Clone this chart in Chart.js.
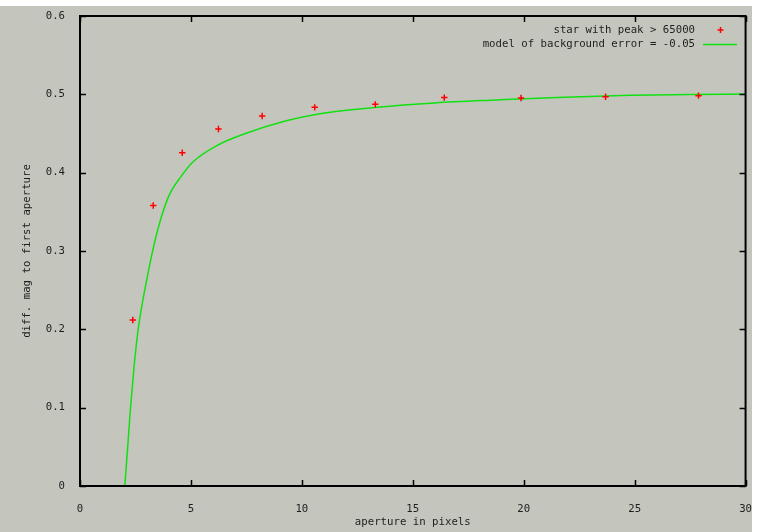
<!DOCTYPE html>
<html>
<head>
<meta charset="utf-8">
<script src="https://cdn.jsdelivr.net/npm/chart.js@4/dist/chart.umd.min.js"></script>
<style>
  body { margin: 0; background: #ffffff; }
  #wrap { width: 761px; height: 532px; }
</style>
</head>
<body>
<div id="wrap"><canvas id="grafico" width="761" height="532"></canvas></div>
<script>
// dados
const aberturaEstrela = [0, 2.38, 3.3, 4.61, 6.24, 8.21, 10.58, 13.31, 16.42, 19.88, 23.69, 27.88];
const difEstrela = [0, 0.212, 0.358, 0.4255, 0.4558, 0.4724, 0.4834, 0.4872, 0.4958, 0.4953, 0.497, 0.4983];

const aberturaModelo = [2.02, 2.15, 2.27, 2.43, 2.6, 2.8, 3.0, 3.25, 3.55, 4.0, 4.55, 5.1, 6.2, 7.46, 9.25, 10.75, 13.4, 16, 18.8, 21.5, 24.8, 27.5, 30];
const difModelo = [0, 0.05, 0.097, 0.15, 0.195, 0.232, 0.262, 0.297, 0.332, 0.37, 0.395, 0.414, 0.435, 0.45, 0.466, 0.475, 0.4835, 0.489, 0.4928, 0.496, 0.4987, 0.4997, 0.5005];

const ticksX = [0, 5, 10, 15, 20, 25, 30];
const ticksY = [0, 0.1, 0.2, 0.3, 0.4, 0.5, 0.6];

const fonte = { family: "'DejaVu Sans Mono', monospace", size: 10.7 };
const corTexto = '#1e1e1e';

function pares(xs, ys) {
  return xs.map((x, i) => ({ x: x, y: ys[i] }));
}

const fundo = {
  id: 'fundo',
  beforeDraw(chart) {
    const c = chart.ctx;
    c.save();
    c.fillStyle = '#c4c6be';
    c.fillRect(0, 6, 752, 526);
    c.restore();
  }
};

// moldura e marcas para dentro (estilo gnuplot)
const moldura = {
  id: 'moldura',
  afterDatasetsDraw(chart) {
    const c = chart.ctx;
    const a = chart.chartArea;
    const sx = chart.scales.x, sy = chart.scales.y;
    c.save();
    c.strokeStyle = '#000';
    c.lineWidth = 1.5;
    c.beginPath();
    ticksX.forEach(v => {
      const px = Math.round(sx.getPixelForValue(v)) + 0.5;
      c.moveTo(px, a.bottom); c.lineTo(px, a.bottom - 6);
      c.moveTo(px, a.top); c.lineTo(px, a.top + 6);
    });
    ticksY.forEach(v => {
      const py = Math.round(sy.getPixelForValue(v)) + 0.5;
      c.moveTo(a.left, py); c.lineTo(a.left + 6, py);
      c.moveTo(a.right, py); c.lineTo(a.right - 6, py);
    });
    c.stroke();
    c.lineWidth = 2;
    c.strokeRect(a.left, a.top, a.right - a.left, a.bottom - a.top);
    c.restore();
  }
};

const legenda = {
  id: 'legenda',
  afterDraw(chart) {
    const c = chart.ctx;
    c.save();
    c.font = fonte.size + 'px ' + fonte.family;
    c.fillStyle = corTexto;
    c.textAlign = 'right';
    c.textBaseline = 'middle';
    const ds = chart.data.datasets;
    c.fillText(ds[0].label, 695, 30);
    c.fillText(ds[1].label, 695, 44);
    c.strokeStyle = '#ff0000';
    c.lineWidth = 1.5;
    c.beginPath();
    c.moveTo(717.5, 30); c.lineTo(723.5, 30);
    c.moveTo(720.5, 27); c.lineTo(720.5, 33);
    c.stroke();
    c.strokeStyle = '#11e011';
    c.beginPath();
    c.moveTo(703, 44.5); c.lineTo(737, 44.5);
    c.stroke();
    c.restore();
  }
};

const chart = new Chart(document.getElementById('grafico').getContext('2d'), {
  type: 'scatter',
  data: {
    datasets: [{
      label: 'star with peak > 65000',
      data: pares(aberturaEstrela, difEstrela),
      pointStyle: 'cross',
      pointRadius: 3.2,
      borderColor: '#ff0000',
      backgroundColor: '#ff0000',
      pointBorderWidth: 1.5,
      showLine: false,
      clip: 0
    }, {
      label: 'model of background error = -0.05',
      data: pares(aberturaModelo, difModelo),
      showLine: true,
      pointRadius: 0,
      borderColor: '#11e011',
      borderWidth: 1.5,
      cubicInterpolationMode: 'monotone',
      clip: 0
    }]
  },
  options: {
    responsive: false,
    animation: false,
    layout: { padding: { top: 16, right: 11, left: 0, bottom: 0 } },
    plugins: {
      legend: { display: false },
      tooltip: { enabled: false }
    },
    scales: {
      x: {
        type: 'linear',
        min: 0,
        max: 30,
        afterFit(s) { s.height = 46; },
        afterBuildTicks(s) { s.ticks = ticksX.map(v => ({ value: v })); },
        grid: { display: false },
        border: { display: false },
        ticks: { font: fonte, color: corTexto, padding: 9, maxRotation: 0 },
        title: {
          display: true,
          text: 'aperture in pixels',
          font: fonte,
          color: corTexto,
          padding: { top: 0, bottom: 3 }
        }
      },
      y: {
        type: 'linear',
        min: 0,
        max: 0.6,
        afterFit(s) { s.width = 80; },
        afterBuildTicks(s) { s.ticks = ticksY.map(v => ({ value: v })); },
        grid: { display: false },
        border: { display: false },
        ticks: { font: fonte, color: corTexto, padding: 7 },
        title: {
          display: true,
          text: 'diff. mag to first aperture',
          font: fonte,
          color: corTexto,
          padding: { top: 21, bottom: 0 }
        }
      }
    }
  },
  plugins: [fundo, moldura, legenda]
});
</script>
</body>
</html>
